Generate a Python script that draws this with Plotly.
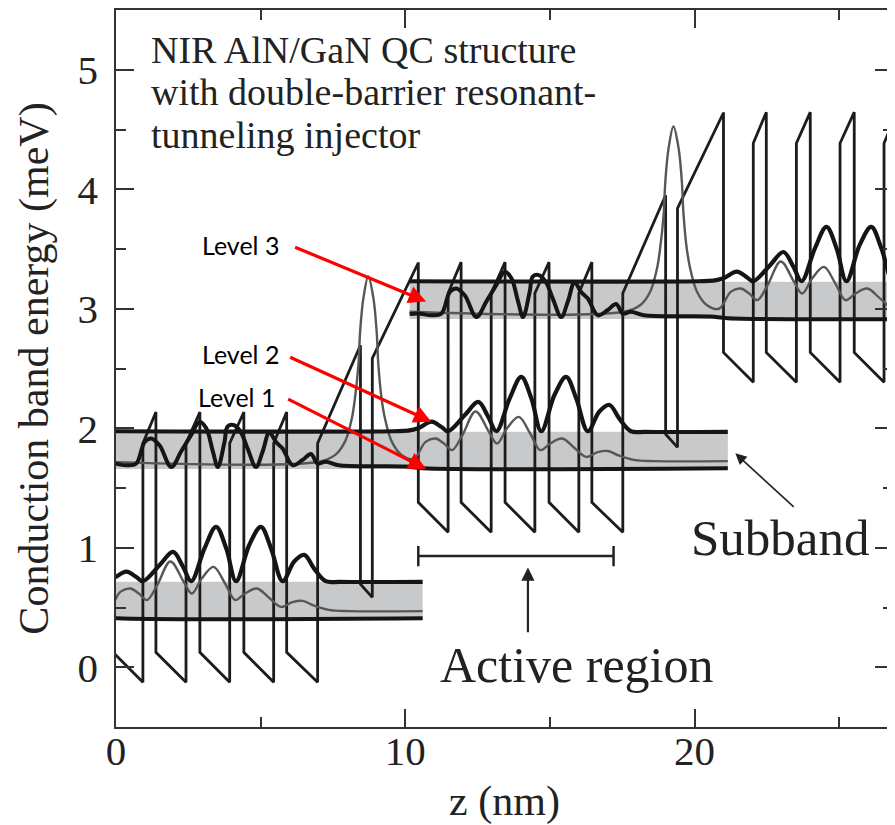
import plotly.graph_objects as go

# ---------------- data (one period of the QC structure) ----------------
PERIOD_NM = 10.55          # spatial period
PERIOD_EV = 1.255          # energy step per period
PERIODS = [-1, 0, 1]

# conduction band profile of one period (z in nm, E in "meV" axis units)
profile_z = [10.45, 10.45, 11.48, 11.48, 11.93, 11.93, 12.97, 12.97, 13.45, 13.45,
             14.48, 14.48, 14.97, 14.97, 16.00, 16.00, 16.45, 16.45, 17.52, 17.52,
             19.00, 19.00, 19.41, 19.41, 21.00]
profile_E = [3.39, 1.38, 1.13, 3.13, 3.39, 1.38, 1.13, 3.13, 3.39, 1.38,
             1.13, 3.13, 3.39, 1.38, 1.13, 3.13, 3.39, 1.38, 1.13, 3.13,
             3.95, 1.95, 1.84, 3.84, 4.64]

# subband (grey strip) of one period
band_z = [-0.40, 21.15]
band_E = [1.66, 1.97]

# upper-edge wavefunction (black)
top_z = [-0.40, 9.60, 10.10, 10.45, 10.91, 11.25, 11.48, 12.06, 12.52, 12.86, 13.15,
         13.61, 14.01, 14.36, 14.70, 15.16, 15.56, 15.91, 16.31, 16.71, 17.06, 17.40,
         17.80, 18.30, 21.15]
top_E = [1.975, 1.975, 1.980, 2.000, 2.055, 2.010, 1.975, 2.110, 2.220, 2.100, 1.975,
         2.250, 2.430, 2.250, 1.975, 2.280, 2.430, 2.250, 1.975, 2.140, 2.195, 2.080,
         1.975, 1.970, 1.970]

# mid-band wavefunction (grey)
mid_z = [-0.40, 7.00, 7.58, 7.92, 8.15, 8.26, 8.38, 8.44, 8.55, 8.72, 8.90, 9.01, 9.07,
         9.18, 9.30, 9.53, 9.87, 10.30, 10.70, 11.05, 11.34, 11.62, 11.97, 12.43, 12.89,
         13.17, 13.52, 13.92, 14.32, 14.67, 15.01, 15.42, 15.87, 16.25, 16.65, 17.00,
         17.40, 17.90, 18.60, 21.15]
mid_E = [1.720, 1.720, 1.777, 1.890, 2.080, 2.250, 2.530, 2.810, 3.085, 3.270, 3.085,
         2.810, 2.530, 2.250, 2.080, 1.890, 1.777, 1.745, 1.886, 1.914, 1.872, 1.817,
         1.940, 2.140, 1.970, 1.872, 2.000, 2.095, 1.956, 1.817, 1.872, 1.914, 1.830,
         1.760, 1.800, 1.810, 1.770, 1.735, 1.725, 1.725]

# lower-edge wavefunction (black, oscillating in the injector)
low_z = [-0.40, -0.10, 0.36, 0.70, 0.99, 1.22, 1.51, 1.91, 2.25, 2.60, 2.89, 3.12, 3.35,
         3.52, 3.75, 3.86, 4.09, 4.32, 4.55, 4.84, 5.07, 5.30, 5.53, 5.76, 6.11, 6.45,
         6.74, 6.97, 7.25, 7.70, 10.00, 10.60, 21.15]
low_E = [1.700, 1.705, 1.690, 1.705, 1.885, 1.915, 1.855, 1.675, 1.805, 1.945, 2.055,
         2.000, 1.805, 1.675, 1.885, 2.015, 2.025, 1.965, 1.830, 1.675, 1.805, 1.965,
         1.885, 1.830, 1.690, 1.735, 1.785, 1.705, 1.720, 1.690, 1.680, 1.665, 1.665]

X_RANGE = [0, 26.86]
Y_RANGE = [-0.5, 5.5]

title_lines = ["NIR AlN/GaN QC structure",
               "with double-barrier resonant-",
               "tunneling injector"]
title_line_E = [5.165, 4.81, 4.455]

level_labels = ["Level 3", "Level 2", "Level 1"]
level_text_pos = [(4.31, 3.53), (4.31, 2.62), (4.17, 2.26)]
level_arrow_tail = [(6.14, 3.52), (5.97, 2.60), (5.90, 2.25)]
level_arrow_tip = [(10.72, 3.06), (10.90, 2.055), (10.72, 1.66)]

# ---------------- figure ----------------
SERIF = "Liberation Serif"
INK = "#222222"

def shift(vals, k, step):
    return [v + k * step for v in vals]

fig = go.Figure()

# grey subbands
shapes = []
for k in PERIODS:
    z0, z1 = shift(band_z, k, PERIOD_NM)
    e0, e1 = shift(band_E, k, PERIOD_EV)
    shapes.append(dict(type="rect", xref="x", yref="y", layer="below",
                       x0=max(z0, X_RANGE[0]), x1=min(z1, X_RANGE[1]),
                       y0=e0, y1=e1, fillcolor="#c8c9cb", line=dict(width=0)))

# conduction band profile
pz, pe = [], []
for k in PERIODS:
    pz += shift(profile_z, k, PERIOD_NM)
    pe += shift(profile_E, k, PERIOD_EV)
fig.add_trace(go.Scatter(x=pz, y=pe, mode="lines",
                         line=dict(color="#1c1c1c", width=2.8), hoverinfo="skip"))

# wavefunctions
for k in PERIODS:
    fig.add_trace(go.Scatter(x=shift(mid_z, k, PERIOD_NM), y=shift(mid_E, k, PERIOD_EV),
                             mode="lines", line=dict(color="#575757", width=2.4, shape="spline"),
                             hoverinfo="skip"))
for k in PERIODS:
    fig.add_trace(go.Scatter(x=shift(low_z, k, PERIOD_NM), y=shift(low_E, k, PERIOD_EV),
                             mode="lines", line=dict(color="#151515", width=4, shape="spline"),
                             hoverinfo="skip"))
    fig.add_trace(go.Scatter(x=shift(top_z, k, PERIOD_NM), y=shift(top_E, k, PERIOD_EV),
                             mode="lines", line=dict(color="#151515", width=4.2, shape="spline"),
                             hoverinfo="skip"))

# active region bracket
br_z = [10.45, 17.20]
br_E = 0.93
br_cap = 0.085
shapes.append(dict(type="line", xref="x", yref="y", x0=br_z[0], x1=br_z[1], y0=br_E, y1=br_E,
                   line=dict(color=INK, width=2.5)))
for zb in br_z:
    shapes.append(dict(type="line", xref="x", yref="y", x0=zb, x1=zb,
                       y0=br_E - br_cap, y1=br_E + br_cap, line=dict(color=INK, width=2.5)))

annotations = []
for txt, ey in zip(title_lines, title_line_E):
    annotations.append(dict(text=txt, x=1.14, y=ey, xref="x", yref="y", xanchor="left",
                            yanchor="middle", showarrow=False,
                            font=dict(family=SERIF, size=38, color=INK)))
for txt, (tx, ty) in zip(level_labels, level_text_pos):
    annotations.append(dict(text=txt, x=tx, y=ty, xref="x", yref="y", showarrow=False,
                            font=dict(family="Lato", size=25, color="#000000")))
for (ax, ay), (tx, ty) in zip(level_arrow_tail, level_arrow_tip):
    annotations.append(dict(text="", x=tx, y=ty, ax=ax, ay=ay, xref="x", yref="y",
                            axref="x", ayref="y", showarrow=True, arrowhead=2,
                            arrowsize=1.1, arrowwidth=3.2, arrowcolor="#ff0000"))
annotations.append(dict(text="Subband", x=22.97, y=1.08, xref="x", yref="y", showarrow=False,
                        font=dict(family=SERIF, size=51, color=INK)))
annotations.append(dict(text="", x=21.41, y=1.79, ax=23.48, ay=1.33, xref="x", yref="y",
                        axref="x", ayref="y", showarrow=True, arrowhead=2, arrowsize=1.4,
                        arrowwidth=1.6, arrowcolor=INK))
annotations.append(dict(text="Active region", x=15.93, y=0.02, xref="x", yref="y",
                        showarrow=False, font=dict(family=SERIF, size=50, color=INK)))
annotations.append(dict(text="", x=14.24, y=0.835, ax=14.24, ay=0.28, xref="x", yref="y",
                        axref="x", ayref="y", showarrow=True, arrowhead=2, arrowsize=1.2,
                        arrowwidth=2.2, arrowcolor=INK))

axis_common = dict(showline=True, linecolor="#333333", linewidth=1.6, mirror="ticks",
                   ticks="inside", ticklen=18, tickwidth=1.6, tickcolor="#333333",
                   showgrid=False, zeroline=False,
                   tickfont=dict(family=SERIF, size=41, color=INK))

# the page adds an 8 px body margin, so the figure is 8 px smaller than the window
fig.update_layout(
    width=887, height=817,
    margin=dict(l=108, r=0, t=1, b=98),
    paper_bgcolor="white", plot_bgcolor="white",
    showlegend=False,
    shapes=shapes, annotations=annotations,
    xaxis=dict(range=X_RANGE, tick0=0, dtick=10,
               minor=dict(dtick=5, ticks="inside", ticklen=10, tickwidth=1.6,
                          tickcolor="#333333", showgrid=False),
               ticklabelstandoff=-13,
               title=dict(text="z (nm)", font=dict(family=SERIF, size=42, color=INK), standoff=20),
               **axis_common),
    yaxis=dict(range=Y_RANGE, tick0=0, dtick=1,
               minor=dict(dtick=0.5, ticks="inside", ticklen=10, tickwidth=1.6,
                          tickcolor="#333333", showgrid=False),
               ticklabelstandoff=8,
               title=dict(text="Conduction band energy (meV)",
                          font=dict(family=SERIF, size=42, color=INK), standoff=16),
               **axis_common),
)

fig.write_html("out.html")
